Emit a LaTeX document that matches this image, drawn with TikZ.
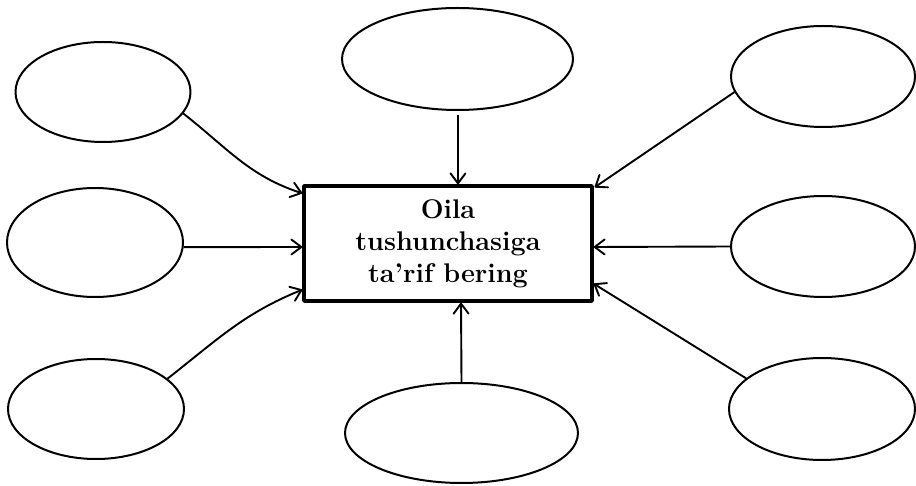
\documentclass[tikz,border=0pt]{standalone}
\usetikzlibrary{shapes.geometric,arrows.meta,calc}
\begin{document}
\begin{tikzpicture}[x=1pt,y=1pt,line join=round,
  oval/.style={draw, ellipse, line width=2pt, inner sep=0pt},
  mainbox/.style={draw, rectangle, line width=3.4pt, inner sep=0pt,
    minimum width=288pt, minimum height=115pt, align=center,
    font=\fontsize{27}{32}\selectfont\bfseries},
  conn/.style={line width=1.9pt, -{Straight Barb[length=10pt,width=15pt,line width=1.9pt,round]}}]
\useasboundingbox (0,0) rectangle (916,485);
\fill[white] (0,0) rectangle (916,485);

\node[mainbox] (box) at (448,241.5) {Oila\\tushunchasiga\\ta’rif bering};

\node[oval, minimum width=175pt, minimum height=100pt] (tl) at (103,393) {};
\node[oval, minimum width=176pt, minimum height=109pt] (ml) at (95,242.5) {};
\node[oval, minimum width=176pt, minimum height=100pt] (bl) at (96,76) {};
\node[oval, minimum width=231pt, minimum height=102pt] (tc) at (457.5,426) {};
\node[oval, minimum width=233pt, minimum height=100pt] (bc) at (461.5,52) {};
\node[oval, minimum width=184pt, minimum height=101pt] (tr) at (823,408.5) {};
\node[oval, minimum width=184pt, minimum height=101pt] (mr) at (823,238.5) {};
\node[oval, minimum width=186pt, minimum height=102pt] (br) at (822,76) {};

\draw[conn] (tl.-15) to[out=-38,in=162] ($(box.north west)+(0,-9)$);
\draw[conn] (ml.-3) -- ($(box.west)+(0,-3.5)$);
\draw[conn] (bl.23) to[out=38,in=-158] ($(box.south west)+(0,13)$);
\draw[conn] ($(tc.south)+(0.5,-4)$) -- ($(box.north)+(10,0)$);
\draw[conn] (bc.north) -- ($(box.south)+(13,0)$);
\draw[conn] (tr.190) -- ($(box.north east)+(1,-3)$);
\draw[conn] (mr.west) -- ($(box.east)+(0,-3.5)$);
\draw[conn] (br.158) -- ($(box.south east)+(0,19)$);
\end{tikzpicture}
\end{document}
